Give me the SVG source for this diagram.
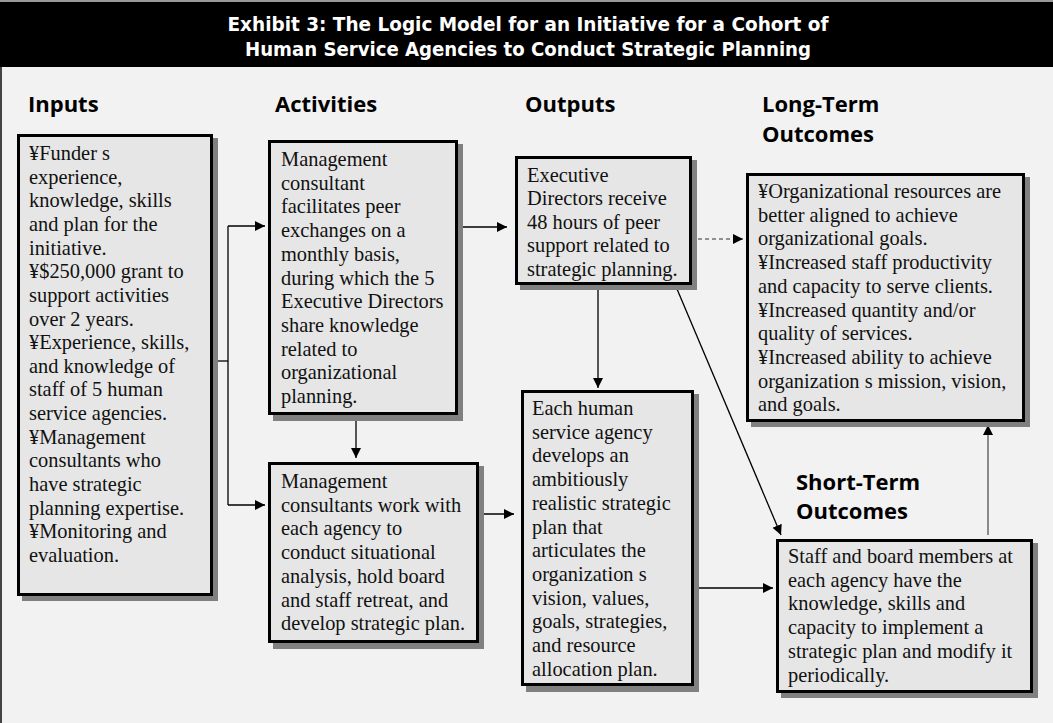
<svg xmlns="http://www.w3.org/2000/svg" width="1053" height="723" viewBox="0 0 1053 723">
<style>
.title{font-family:"DejaVu Sans Condensed","DejaVu Sans","Liberation Sans",sans-serif;font-stretch:condensed;font-weight:bold;font-size:20px;fill:#fff}
.head{font-family:"Open Sans","Noto Sans","Liberation Sans",sans-serif;font-weight:700;font-size:22px;fill:#000}
.box{fill:#e6e6e6;stroke:#000;stroke-width:3}
.shadow{fill:#808080}
.txt{font-family:"Liberation Serif","Times New Roman",serif;font-size:20.4px;fill:#111}
.conn{stroke:#000;stroke-width:1.3;fill:none}
</style>
<defs>
<marker id="ah" markerUnits="userSpaceOnUse" markerWidth="11" markerHeight="11" refX="10" refY="5" orient="auto">
<path d="M0,0 L10,5 L0,10 z" fill="#000"/>
</marker>
</defs>
<rect x="0" y="0" width="1053" height="723" fill="#f2f2f2"/>
<rect x="0" y="0" width="1053" height="2" fill="#999"/>
<rect x="0" y="2" width="1053" height="65" fill="#000"/>
<rect x="0" y="67" width="2" height="656" fill="#444"/>
<g id="title">
<text class="title" x="528" y="31" text-anchor="middle" textLength="601" lengthAdjust="spacingAndGlyphs">Exhibit 3: The Logic Model for an Initiative for a Cohort of</text>
<text class="title" x="528" y="56" text-anchor="middle" textLength="566" lengthAdjust="spacingAndGlyphs">Human Service Agencies to Conduct Strategic Planning</text>
</g>
<g id="headings">
<text class="head" x="28" y="112">Inputs</text>
<text class="head" x="275" y="112">Activities</text>
<text class="head" x="525" y="112">Outputs</text>
<text class="head" x="762" y="112">Long-Term</text>
<text class="head" x="762" y="142">Outcomes</text>
<text class="head" x="796" y="490">Short-Term</text>
<text class="head" x="796" y="519">Outcomes</text>
</g>
<g id="connectors">
<polyline class="conn" points="218,361 228,361"/>
<polyline class="conn" points="228,226 228,505"/>
<line class="conn" x1="228" y1="226" x2="265" y2="226" marker-end="url(#ah)"/>
<line class="conn" x1="228" y1="505" x2="265" y2="505" marker-end="url(#ah)"/>
<line class="conn" x1="460" y1="227" x2="507" y2="227" marker-end="url(#ah)"/>
<line class="conn" x1="356" y1="418" x2="356" y2="458" marker-end="url(#ah)"/>
<line class="conn" x1="481" y1="514" x2="514" y2="514" marker-end="url(#ah)"/>
<line class="conn" x1="598" y1="290" x2="598" y2="388" marker-end="url(#ah)"/>
<line class="conn" x1="698" y1="239" x2="743" y2="239" style="stroke:#707070" stroke-dasharray="4 3" marker-end="url(#ah)"/>
<line class="conn" x1="677" y1="289" x2="781" y2="535" marker-end="url(#ah)"/>
<line class="conn" x1="696" y1="588" x2="773" y2="588" marker-end="url(#ah)"/>
<line class="conn" x1="988" y1="535" x2="988" y2="425" style="stroke:#707070;stroke-width:1.6" marker-end="url(#ah)"/>
</g>
<g id="inputs">
<rect class="shadow" x="22" y="138" width="196" height="463"/>
<rect class="box" x="18.5" y="135.5" width="193" height="459"/>
<text class="txt" x="29" y="160">
<tspan x="29" dy="0">¥Funder s</tspan>
<tspan x="29" dy="23.65">experience,</tspan>
<tspan x="29" dy="23.65">knowledge, skills</tspan>
<tspan x="29" dy="23.65">and plan for the</tspan>
<tspan x="29" dy="23.65">initiative.</tspan>
<tspan x="29" dy="23.65">¥$250,000 grant to</tspan>
<tspan x="29" dy="23.65">support activities</tspan>
<tspan x="29" dy="23.65">over 2 years.</tspan>
<tspan x="29" dy="23.65">¥Experience, skills,</tspan>
<tspan x="29" dy="23.65">and knowledge of</tspan>
<tspan x="29" dy="23.65">staff of 5 human</tspan>
<tspan x="29" dy="23.65">service agencies.</tspan>
<tspan x="29" dy="23.65">¥Management</tspan>
<tspan x="29" dy="23.65">consultants who</tspan>
<tspan x="29" dy="23.65">have strategic</tspan>
<tspan x="29" dy="23.65">planning expertise.</tspan>
<tspan x="29" dy="23.65">¥Monitoring and</tspan>
<tspan x="29" dy="23.65">evaluation.</tspan>
</text>
</g>
<g id="activity1">
<rect class="shadow" x="273" y="144" width="190" height="277"/>
<rect class="box" x="269.5" y="141.5" width="187" height="272"/>
<text class="txt" x="281" y="166">
<tspan x="281" dy="0">Management</tspan>
<tspan x="281" dy="23.7">consultant</tspan>
<tspan x="281" dy="23.7">facilitates peer</tspan>
<tspan x="281" dy="23.7">exchanges on a</tspan>
<tspan x="281" dy="23.7">monthly basis,</tspan>
<tspan x="281" dy="23.7">during which the 5</tspan>
<tspan x="281" dy="23.7">Executive Directors</tspan>
<tspan x="281" dy="23.7">share knowledge</tspan>
<tspan x="281" dy="23.7">related to</tspan>
<tspan x="281" dy="23.7">organizational</tspan>
<tspan x="281" dy="23.7">planning.</tspan>
</text>
</g>
<g id="activity2">
<rect class="shadow" x="273" y="466" width="211" height="183"/>
<rect class="box" x="269.5" y="463.5" width="208" height="178"/>
<text class="txt" x="281" y="488">
<tspan x="281" dy="0">Management</tspan>
<tspan x="281" dy="23.7">consultants work with</tspan>
<tspan x="281" dy="23.7">each agency to</tspan>
<tspan x="281" dy="23.7">conduct situational</tspan>
<tspan x="281" dy="23.7">analysis, hold board</tspan>
<tspan x="281" dy="23.7">and staff retreat, and</tspan>
<tspan x="281" dy="23.7">develop strategic plan.</tspan>
</text>
</g>
<g id="output1">
<rect class="shadow" x="520" y="160" width="177" height="130"/>
<rect class="box" x="516.5" y="157.5" width="174" height="126"/>
<text class="txt" x="527" y="181.5">
<tspan x="527" dy="0">Executive</tspan>
<tspan x="527" dy="23.6">Directors receive</tspan>
<tspan x="527" dy="23.6">48 hours of peer</tspan>
<tspan x="527" dy="23.6">support related to</tspan>
<tspan x="527" dy="23.6">strategic planning.</tspan>
</text>
</g>
<g id="output2">
<rect class="shadow" x="526" y="394" width="173" height="298"/>
<rect class="box" x="522.5" y="391.5" width="170" height="293"/>
<text class="txt" x="532" y="415">
<tspan x="532" dy="0">Each human</tspan>
<tspan x="532" dy="23.7">service agency</tspan>
<tspan x="532" dy="23.7">develops an</tspan>
<tspan x="532" dy="23.7">ambitiously</tspan>
<tspan x="532" dy="23.7">realistic strategic</tspan>
<tspan x="532" dy="23.7">plan that</tspan>
<tspan x="532" dy="23.7">articulates the</tspan>
<tspan x="532" dy="23.7">organization s</tspan>
<tspan x="532" dy="23.7">vision, values,</tspan>
<tspan x="532" dy="23.7">goals, strategies,</tspan>
<tspan x="532" dy="23.7">and resource</tspan>
<tspan x="532" dy="23.7">allocation plan.</tspan>
</text>
</g>
<g id="longterm">
<rect class="shadow" x="751" y="177" width="279" height="250"/>
<rect class="box" x="747.5" y="174.5" width="276" height="246"/>
<text class="txt" x="758" y="198">
<tspan x="758" dy="0">¥Organizational resources are</tspan>
<tspan x="758" dy="23.7">better aligned to achieve</tspan>
<tspan x="758" dy="23.7">organizational goals.</tspan>
<tspan x="758" dy="23.7">¥Increased staff productivity</tspan>
<tspan x="758" dy="23.7">and capacity to serve clients.</tspan>
<tspan x="758" dy="23.7">¥Increased quantity and/or</tspan>
<tspan x="758" dy="23.7">quality of services.</tspan>
<tspan x="758" dy="23.7">¥Increased ability to achieve</tspan>
<tspan x="758" dy="23.7">organization s mission, vision,</tspan>
<tspan x="758" dy="23.7">and goals.</tspan>
</text>
</g>
<g id="shortterm">
<rect class="shadow" x="781" y="543" width="257" height="155"/>
<rect class="box" x="777.5" y="540.5" width="254" height="151"/>
<text class="txt" x="788" y="563">
<tspan x="788" dy="0">Staff and board members at</tspan>
<tspan x="788" dy="23.7">each agency have the</tspan>
<tspan x="788" dy="23.7">knowledge, skills and</tspan>
<tspan x="788" dy="23.7">capacity to implement a</tspan>
<tspan x="788" dy="23.7">strategic plan and modify it</tspan>
<tspan x="788" dy="23.7">periodically.</tspan>
</text>
</g>
</svg>
